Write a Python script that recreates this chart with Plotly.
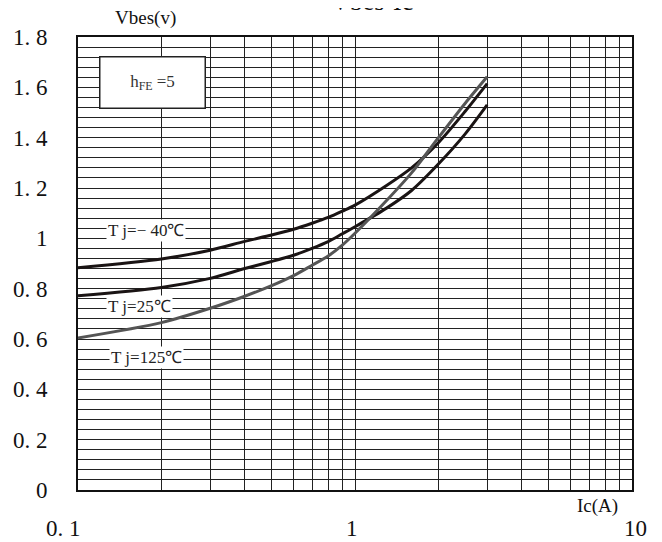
import math
import plotly.graph_objects as go

# Data
ic = [0.1, 0.2, 0.3, 0.4, 0.5, 0.6, 0.7, 0.8, 0.9, 1.0, 1.3, 1.6, 2.0, 2.5, 3.0]
vbes_m40 = [0.883, 0.918, 0.953, 0.988, 1.013, 1.036, 1.06, 1.083, 1.108, 1.132, 1.21, 1.28, 1.38, 1.505, 1.615]
vbes_25 = [0.772, 0.805, 0.841, 0.880, 0.908, 0.933, 0.96, 0.987, 1.018, 1.046, 1.12, 1.19, 1.295, 1.415, 1.53]
vbes_125 = [0.604, 0.665, 0.722, 0.770, 0.812, 0.852, 0.893, 0.93, 0.973, 1.02, 1.15, 1.26, 1.40, 1.537, 1.642]

x_grid = [0.1, 0.2, 0.3, 0.4, 0.5, 0.6, 0.7, 0.8, 0.9, 1, 2, 3, 4, 5, 6, 7, 8, 9, 10]
x_labels = {0.1: "0. 1", 1: "1", 10: "10"}
y_grid = [round(i * 0.04, 2) for i in range(46)]
y_labels = {0.0: "0", 0.2: "0. 2", 0.4: "0. 4", 0.6: "0. 6", 0.8: "0. 8", 1.0: "1",
            1.2: "1. 2", 1.4: "1. 4", 1.6: "1. 6", 1.8: "1. 8"}

FONT = "Liberation Serif"

fig = go.Figure()
fig.add_trace(go.Scatter(x=ic, y=vbes_m40, mode="lines",
                         line=dict(color="#1a1414", width=3, shape="spline", smoothing=0.8),
                         showlegend=False))
fig.add_trace(go.Scatter(x=ic, y=vbes_25, mode="lines",
                         line=dict(color="#1a1414", width=3, shape="spline", smoothing=0.8),
                         showlegend=False))
fig.add_trace(go.Scatter(x=ic, y=vbes_125, mode="lines",
                         line=dict(color="#555555", width=3, shape="spline", smoothing=0.8),
                         showlegend=False))

fig.update_xaxes(type="log", range=[-1, 1], automargin=False,
                 tickmode="array", tickvals=x_grid,
                 ticktext=["" for v in x_grid],
                 showgrid=True, gridcolor="#222222", gridwidth=1.3,
                 showline=True, linecolor="#111111", linewidth=2, mirror=True,
                 ticks="", zeroline=False)
fig.update_yaxes(range=[0, 1.8], automargin=False,
                 tickmode="array", tickvals=y_grid,
                 ticktext=[y_labels.get(v, "") for v in y_grid],
                 showgrid=True, gridcolor="#222222", gridwidth=1.3,
                 showline=True, linecolor="#111111", linewidth=2, mirror=True,
                 ticks="", ticklabelstandoff=24, zeroline=False,
                 tickfont=dict(family=FONT, size=23, color="#111111"))

annots = [
    dict(text="Vbes-Ic", xref="paper", yref="paper", x=0.53, y=1.042, xanchor="center", yanchor="bottom",
         font=dict(family=FONT, size=26, color="#111111"), showarrow=False),
    dict(text="Vbes(v)", xref="paper", yref="paper", x=0.122, y=1.013, xanchor="center", yanchor="bottom",
         font=dict(family=FONT, size=19, color="#111111"), showarrow=False),
    dict(text="Ic(A)", xref="paper", yref="paper", x=0.937, y=-0.006, xanchor="center", yanchor="top",
         font=dict(family=FONT, size=19, color="#111111"), showarrow=False),
    dict(text="h<sub>FE</sub> =5", xref="paper", yref="paper", x=0.1344, y=0.8996,
         xanchor="center", yanchor="middle", width=104, height=50,
         bgcolor="white", bordercolor="#222222", borderwidth=1.5, borderpad=0,
         font=dict(family=FONT, size=17, color="#333333"), showarrow=False),
    dict(text="T j=− 40℃", xref="x", yref="y", x=-0.756, y=1.033, xanchor="center", yanchor="middle",
         bgcolor="white", borderpad=1, font=dict(family=FONT, size=17, color="#222222"), showarrow=False),
    dict(text="T j=25℃", xref="x", yref="y", x=-0.778, y=0.731, xanchor="center", yanchor="middle",
         bgcolor="white", borderpad=1, font=dict(family=FONT, size=17, color="#222222"), showarrow=False),
    dict(text="T j=125℃", xref="x", yref="y", x=-0.753, y=0.528, xanchor="center", yanchor="middle",
         bgcolor="white", borderpad=1, font=dict(family=FONT, size=17, color="#222222"), showarrow=False),
]

# x tick labels (placed on the log axis, nudged like the reference)
label_shift = {0.1: -15, 1: -3, 10: 3}
for v, txt in x_labels.items():
    annots.append(dict(text=txt, xref="x", yref="paper", x=math.log10(v), y=-0.084,
                       xanchor="center", yanchor="middle", xshift=label_shift[v],
                       font=dict(family=FONT, size=23, color="#111111"), showarrow=False))

# the page adds an 8 px body margin, so the margins are reduced by 8 px on the left/top
fig.update_layout(width=662, height=542, margin=dict(l=70, r=38, t=29, b=60),
                  paper_bgcolor="white", plot_bgcolor="white",
                  annotations=annots, showlegend=False)

fig.write_html("out.html")
